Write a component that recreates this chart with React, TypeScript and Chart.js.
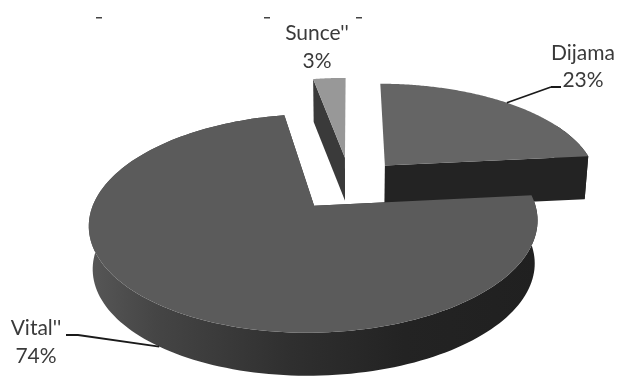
import React, { useEffect, useRef } from "react";
import { Chart, registerables } from "chart.js";

Chart.register(...registerables);

const categories = ["Dijama", "Vital''", "Sunce''"];
const shares = [23.4, 73.7, 2.9];

const topColors = ["#656565", "#5b5b5b", "#989898"];
const sideColors = ["#232323", "#2c2c2c", "#3a3a3a"];

const view = {
  X0: 350, Y0: 183.5, Rx: 214, Ry: 99.6, k: 0.155, depth: 43, shrink: 0.985,
  explode: [0.25, 0.27, 0.27],
};

type Pt = [number, number];

const project = (u: number, v: number, low = false): Pt => {
  const s = 1 / (1 - view.k * v);
  const sx = low ? view.shrink : 1;
  return [
    view.X0 + view.Rx * u * s * sx,
    view.Y0 + view.Ry * v * s + (low ? view.depth : 0),
  ];
};

const tracePoly = (ctx: CanvasRenderingContext2D, pts: Pt[]) => {
  ctx.beginPath();
  pts.forEach((p, i) => (i ? ctx.lineTo(p[0], p[1]) : ctx.moveTo(p[0], p[1])));
  ctx.closePath();
};

const labelBoxes = [
  { x: 583, y1: 60, y2: 87, lead: [[551, 87], [561, 87]] as Pt[], low: false },
  { x: 36, y1: 335, y2: 363, lead: [[66, 335], [78, 335]] as Pt[], low: true },
  { x: 317, y1: 40, y2: 68, lead: [] as Pt[], low: false },
];

const titleScraps = [99, 267, 359];

const pie3d = {
  id: "pie3d",
  beforeDatasetDraw(chart: any) {
    const ctx: CanvasRenderingContext2D = chart.ctx;
    const arcs = chart.getDatasetMeta(0).data;
    const geom = arcs.map((arc: any, i: number) => {
      const mid = (arc.startAngle + arc.endAngle) / 2;
      const cu = Math.cos(mid) * view.explode[i];
      const cv = Math.sin(mid) * view.explode[i];
      return { start: arc.startAngle, end: arc.endAngle, mid, cu, cv };
    });
    const rim = (g: any, low: boolean) => {
      const pts: Pt[] = [];
      const n = 160;
      for (let j = 0; j <= n; j++) {
        const a = g.start + ((g.end - g.start) * j) / n;
        pts.push(project(g.cu + Math.cos(a), g.cv + Math.sin(a), low));
      }
      return pts;
    };
    ctx.save();
    [2, 0, 1].forEach((i) => {
      const g = geom[i];
      const top = rim(g, false);
      const low = rim(g, true);
      const apexT = project(g.cu, g.cv, false);
      const apexL = project(g.cu, g.cv, true);
      let side: any = sideColors[i];
      if (i === 1) {
        const grad = ctx.createLinearGradient(88, 0, 540, 0);
        grad.addColorStop(0, "#575757");
        grad.addColorStop(0.15, "#454545");
        grad.addColorStop(0.45, "#2f2f2f");
        grad.addColorStop(0.7, "#232323");
        grad.addColorStop(1, "#202020");
        side = grad;
      }
      ctx.fillStyle = side;
      const from = i === 0 ? 120 : 0;
      if (i !== 2) {
        tracePoly(ctx, [...top.slice(from), ...low.slice(from).reverse()]);
        ctx.fill();
      }
      if (i !== 0) {
        tracePoly(ctx, [apexT, top[0], low[0], apexL]);
        ctx.fill();
      }
      if (i !== 2) {
        tracePoly(ctx, [apexT, top[top.length - 1], low[low.length - 1], apexL]);
        ctx.fill();
      }
      ctx.fillStyle = topColors[i];
      tracePoly(ctx, [apexT, ...top]);
      ctx.fill();
    });

    ctx.strokeStyle = "#1a1a1a";
    ctx.lineWidth = 1.8;
    geom.forEach((g: any, i: number) => {
      const box = labelBoxes[i];
      if (box.lead.length) {
        const end = project(g.cu + Math.cos(g.mid), g.cv + Math.sin(g.mid), box.low);
        ctx.beginPath();
        ctx.moveTo(box.lead[0][0], box.lead[0][1]);
        ctx.lineTo(box.lead[1][0], box.lead[1][1]);
        if (i === 0) {
          ctx.moveTo(box.lead[0][0], box.lead[0][1]);
          ctx.lineTo(end[0], end[1]);
        } else {
          ctx.lineTo(end[0], end[1]);
        }
        ctx.stroke();
      }
    });

    ctx.fillStyle = "#3a3a3a";
    ctx.font = '21px Lato, "Open Sans", sans-serif';
    ctx.textAlign = "center";
    ctx.textBaseline = "alphabetic";
    const total = shares.reduce((a, b) => a + b, 0);
    categories.forEach((name, i) => {
      const box = labelBoxes[i];
      ctx.fillText(name, box.x, box.y1);
      ctx.fillText(`${Math.round((shares[i] / total) * 100)}%`, box.x, box.y2);
    });
    ctx.fillStyle = "#444444";
    titleScraps.forEach((x) => ctx.fillRect(x - 3, 17, 6, 1.5));
    ctx.restore();
    return false;
  },
};

export default function App() {
  const ref = useRef<HTMLCanvasElement>(null);
  useEffect(() => {
    const chart = new Chart(ref.current!, {
      type: "pie",
      data: {
        labels: categories,
        datasets: [{ data: shares, backgroundColor: topColors, borderWidth: 0 }],
      },
      options: {
        responsive: false,
        animation: false,
        rotation: 0,
        plugins: { legend: { display: false }, tooltip: { enabled: false } },
      },
      plugins: [pie3d],
    } as any);
    return () => chart.destroy();
  }, []);
  return (
    <div style={{ position: "fixed", left: 0, top: 0, width: 619, height: 378, background: "#fff" }}>
      <canvas ref={ref} width={619} height={378} style={{ display: "block" }} />
    </div>
  );
}
